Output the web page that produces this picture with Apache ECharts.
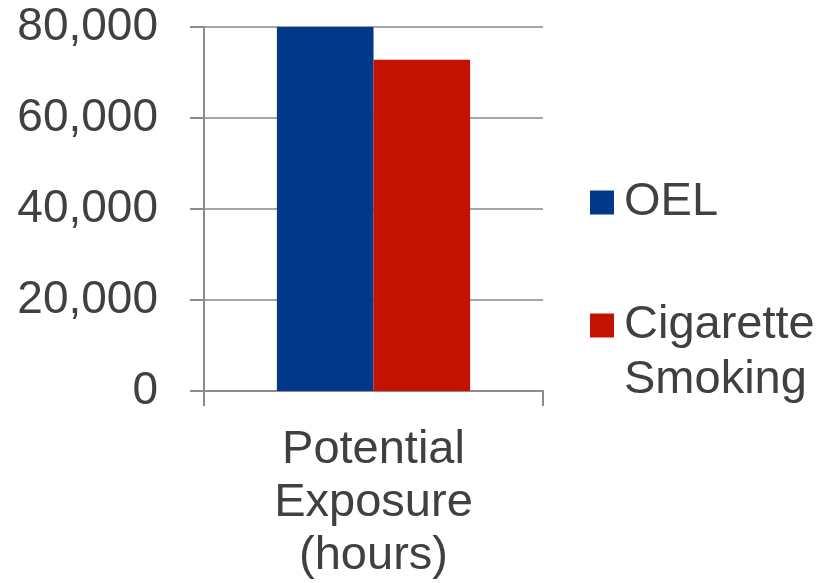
<!DOCTYPE html>
<html>
<head>
<meta charset="utf-8">
<script src="https://cdn.jsdelivr.net/npm/echarts@6/dist/echarts.min.js"></script>
<style>html,body{margin:0;padding:0;background:#fff;}#c{width:830px;height:583px;}</style>
</head>
<body>
<div id="c"></div>
<script>
const categories = ['Potential\nExposure\n(hours)'];
const oelValues = [80000];
const smokingValues = [72800];
const seriesNames = ['OEL', 'Cigarette Smoking'];
const yTicks = [0, 20000, 40000, 60000, 80000];

const chart = echarts.init(document.getElementById('c'), null, {renderer: 'canvas'});
const font = 'Liberation Sans, Arial, sans-serif';
const legendText = {fontFamily: font, fontSize: 47, color: '#404040', lineHeight: 55,
  rich: {t: {fontFamily: font, fontSize: 47, color: '#404040', lineHeight: 55, padding: [0, 0, 0, 5]}}};
chart.setOption({
  animation: false,
  grid: {left: 204, right: 287, top: 27, bottom: 191},
  xAxis: {
    type: 'category',
    data: categories,
    axisLine: {lineStyle: {color: '#8c8c8c', width: 2}},
    axisTick: {show: true, length: 15, lineStyle: {color: '#8c8c8c', width: 2}},
    axisLabel: {fontFamily: font, fontSize: 47, color: '#404040', lineHeight: 53, margin: 33}
  },
  yAxis: {
    type: 'value',
    min: yTicks[0],
    max: yTicks[yTicks.length - 1],
    interval: yTicks[1] - yTicks[0],
    axisLine: {show: true, lineStyle: {color: '#8c8c8c', width: 2}},
    axisTick: {show: true, length: 14, lineStyle: {color: '#8c8c8c', width: 2}},
    splitLine: {lineStyle: {color: '#a6a6a6', width: 2}},
    axisLabel: {fontFamily: font, fontSize: 46, color: '#404040', margin: 46,
      formatter: v => v.toLocaleString('en-US')}
  },
  legend: [
    {data: [seriesNames[0]], orient: 'vertical', left: 590, top: 175, padding: 0,
     itemWidth: 24, itemHeight: 24, itemGap: 0, icon: 'rect',
     formatter: n => '{t|' + n + '}',
     textStyle: legendText},
    {data: [seriesNames[1]], orient: 'vertical', left: 590, top: 243, padding: 0,
     itemWidth: 24, itemHeight: 24, itemGap: 0, icon: 'rect',
     formatter: n => '{t|\u00a0}\n' + n.split(' ').map(w => '{t|' + w + '}').join('\n'),
     textStyle: legendText}
  ],
  series: [
    {name: seriesNames[0], type: 'bar', data: oelValues, barGap: '0%', barCategoryGap: '43%',
     itemStyle: {color: '#03378a'}},
    {name: seriesNames[1], type: 'bar', data: smokingValues, barGap: '0%', barCategoryGap: '43%',
     itemStyle: {color: '#c41200'}}
  ]
});
</script>
</body>
</html>
